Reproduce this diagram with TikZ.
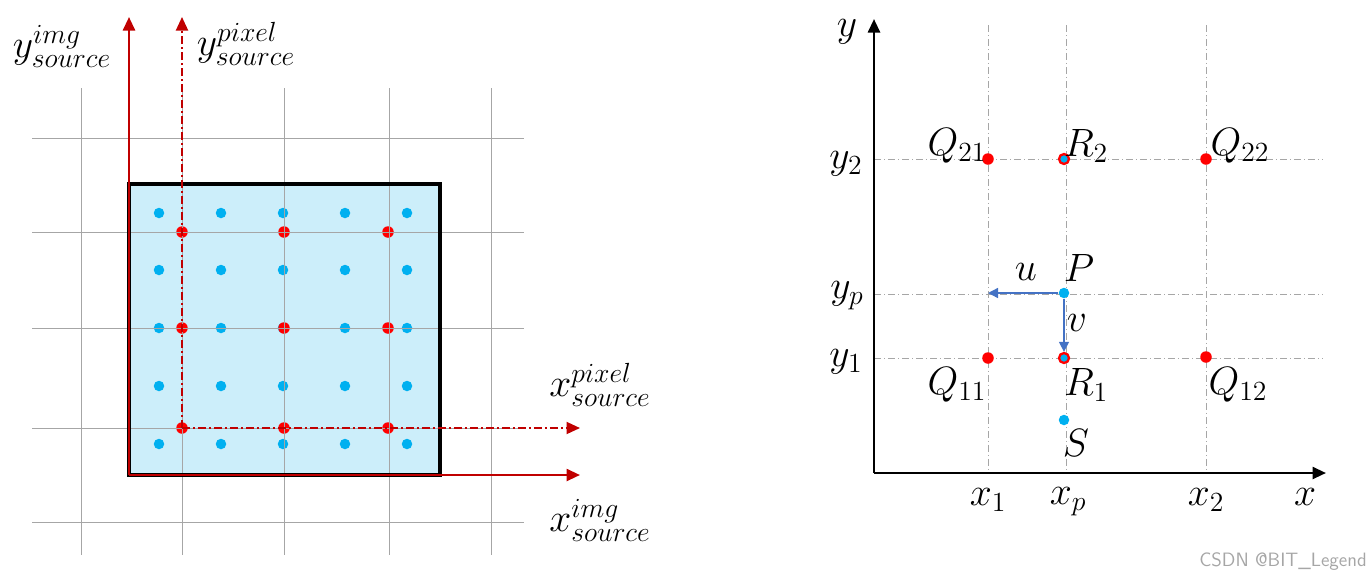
\RequirePackage{fix-cm}
\documentclass[tikz,border=0pt]{standalone}
\usepackage{tikz}
\usetikzlibrary{arrows.meta}
\usetikzlibrary{positioning}

\definecolor{axisred}{RGB}{192,0,0}
\definecolor{dotred}{RGB}{255,0,0}
\definecolor{dotblue}{RGB}{0,176,240}
\definecolor{imgfill}{RGB}{204,238,250}
\definecolor{gridgray}{RGB}{166,166,166}
\definecolor{arrowblue}{RGB}{68,114,196}

\tikzset{
  bdot/.style={circle, fill=dotblue, inner sep=0pt, minimum size=0.21cm},
  rdot/.style={circle, fill=dotred, inner sep=0pt, minimum size=0.23cm},
  rring/.style={circle, fill=dotblue, draw=dotred, line width=1.3pt, inner sep=0pt, minimum size=0.2cm},
  lbl/.style={font=\fontsize{22.5}{26}\selectfont, inner sep=1pt},
  gridline/.style={gridgray, line width=0.45pt},
  guide/.style={gridgray, line width=0.45pt, dash pattern=on 0.14cm off 0.06cm on 0.02cm off 0.06cm},
  redaxis/.style={axisred, line width=1.4pt, -{Triangle[length=0.27cm,width=0.24cm]}},
  pixaxis/.style={redaxis, line width=1.1pt, dash pattern=on 0.16cm off 0.06cm on 0.04cm off 0.06cm},
  blackaxis/.style={black, line width=1.4pt, -{Triangle[length=0.27cm,width=0.24cm]}},
  uvarrow/.style={arrowblue, line width=0.8pt, -{Triangle[length=0.2cm,width=0.2cm]}}
}

\begin{document}
\begin{tikzpicture}[x=0.02cm, y=-0.02cm]
 \useasboundingbox (0,0) rectangle (1369,579);

 %source image
 \fill[imgfill] (129,184) rectangle (440,475);

 \foreach \i/\x in {1/159,2/221,3/283,4/345,5/407} {
   \foreach \j/\y in {1/213,2/270,3/328,4/386,5/444} {
     \node[bdot] (b\i\j) at (\x,\y) {};
   }
 }

 \foreach \i/\x in {1/182,2/284,3/388} {
   \foreach \j/\y in {1/232,2/328,3/428} {
     \node[rdot] (r\i\j) at (\x,\y) {};
   }
 }

 %grid
 \foreach \x in {81,182,284,389,491} {
   \draw[gridline] (\x,88) -- (\x,555);
 }
 \foreach \y in {138,232,328,428,522} {
   \draw[gridline] (32,\y) -- (524,\y);
 }

 \draw[black, line width=1.9pt] (129,184) rectangle (440,475);

 %axes
 \coordinate (Oimg) at (129,475);
 \coordinate (Opix) at (182,428);
 \coordinate (yimg) at (129,17);
 \coordinate (ypix) at (182,17);
 \coordinate (ximg) at (580,475);
 \coordinate (xpix) at (580,428);

 \draw[pixaxis] (Opix) -- (ypix);
 \draw[pixaxis] (Opix) -- (xpix);
 \draw[redaxis] (Oimg) -- (yimg);
 \draw[redaxis] (Oimg) -- (ximg);

 \node[lbl] (Lyimg) at (62,46) {$y^{img}_{source}$};
 \node[lbl] (Lypix) at (246,44) {$y^{pixel}_{source}$};
 \node[lbl] (Lxpix) at (600,385) {$x^{pixel}_{source}$};
 \node[lbl] (Lximg) at (600,520) {$x^{img}_{source}$};

 %bilinear
 \coordinate (O) at (874,473);
 \coordinate (ytip) at (874,19);
 \coordinate (xtip) at (1326,473);

 \foreach \x in {988,1066,1206} {
   \draw[guide] (\x,25) -- (\x,473);
 }
 \foreach \y in {159,294,358} {
   \draw[guide] (874,\y) -- (1322,\y);
 }

 \draw[blackaxis] (O) -- (ytip);
 \draw[blackaxis] (O) -- (xtip);

 \node[rdot] (Q21) at (988,159) {};
 \node[rring] (R2) at (1064,159) {};
 \node[rdot] (Q22) at (1206,159) {};
 \node[bdot] (P) at (1064,293) {};
 \node[rdot] (Q11) at (988,358) {};
 \node[rring] (R1) at (1064,358) {};
 \node[rdot] (Q12) at (1206,357) {};
 \node[bdot] (S) at (1064,420) {};

 \coordinate (uend) at (988,293);
 \draw[uvarrow] (P) -- (uend);
 \draw[uvarrow] (P) -- (R1.north);

 \node[lbl] (Ly) at (847,32) {$y$};
 \node[lbl] (Ly2) at (846,164) {$y_2$};
 \node[lbl] (Lyp) at (847,296) {$y_p$};
 \node[lbl] (Ly1) at (846,362) {$y_1$};
 \node[lbl] (Lx1) at (988,500) {$x_1$};
 \node[lbl] (Lxp) at (1068,502) {$x_p$};
 \node[lbl] (Lx2) at (1206,500) {$x_2$};
 \node[lbl] (Lx) at (1305,497) {$x$};

 \node[lbl] (LQ21) at (957,146) {$Q_{21}$};
 \node[lbl] (LR2) at (1086,146) {$R_2$};
 \node[lbl] (LQ22) at (1240,146) {$Q_{22}$};
 \node[lbl] (LP) at (1079,268) {$P$};
 \node[lbl] (Lu) at (1026,272) {$u$};
 \node[lbl] (Lv) at (1077,323) {$v$};
 \node[lbl] (LQ11) at (957,385) {$Q_{11}$};
 \node[lbl] (LR1) at (1086,385) {$R_1$};
 \node[lbl] (LQ12) at (1238,385) {$Q_{12}$};
 \node[lbl] (LS) at (1076,443) {$S$};

 \node[gridgray, font=\sffamily\fontsize{11}{13}\selectfont] (mark) at (1283,562) {CSDN @BIT\_Legend};
\end{tikzpicture}
\end{document}
